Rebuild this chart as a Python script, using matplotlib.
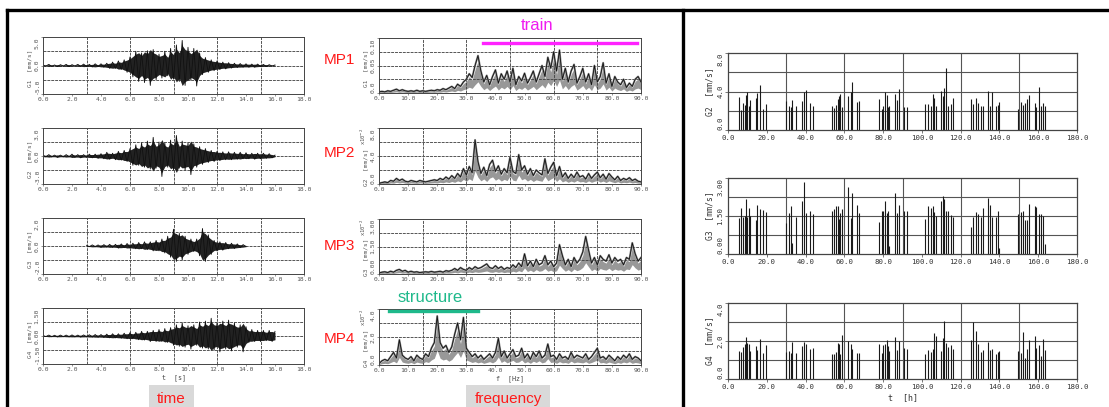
import numpy as np
import matplotlib
matplotlib.use("Agg")
from matplotlib import pyplot as plt
from matplotlib.lines import Line2D
from matplotlib.patches import Rectangle

# vibration velocity records at MP1..MP4, sampled every 0.2 s
dt = 0.2
g1_start = 0.0
g1 = [0.1, -0.1, 0.2, -0.15, 0.1, -0.2, 0.15, -0.1, 0.2, -0.2, 0.15, -0.1, 0.2, -0.15, 0.25, -0.2, 0.2, -0.25, 0.3, -0.2, 0.3,
      -0.3, 0.4, -0.5, 0.6, -0.5, 0.8, -0.7, 1.0, -1.2, 1.5,
      -2.0, 2.5, -2.8, 2.2, -3.0, 2.6, -3.5, 2.8, -2.5, 2.0, -2.2, 2.5, -1.8, 3.0, -2.4, 3.6, -2.8, 4.4, -3.5, 3.2, -2.6, 3.0, -3.6, 2.2, -1.6,
      1.4, -1.2, 1.0, -0.9, 0.8, -0.7, 0.6, -0.6, 0.5, -0.45,
      0.4, -0.35, 0.35, -0.3, 0.3, -0.3, 0.25, -0.3, 0.25, -0.2, 0.2, -0.2, 0.15, -0.1, 0.1]
g2_start = 0.0
g2 = [0.1, -0.1, 0.15, -0.1, 0.1, -0.15, 0.1, -0.1, 0.15, -0.1, 0.2, -0.15, 0.15, -0.2, 0.15, -0.15, 0.2, -0.2, 0.2, -0.25, 0.25,
      -0.3, 0.4, -0.35, 0.3, -0.4, 0.5, -0.45, 0.6, -0.6, 0.8,
      -1.0, 1.2, -1.0, 1.4, -1.2, 1.6, -1.4, 2.0, -1.3, 1.5, -2.2, 1.4, -1.2, 1.7, -1.5, 2.2, -1.3, 1.6, -1.5, 1.4, -2.0, 1.3, -1.2, 1.0, -0.9,
      0.8, -0.7, 0.6, -0.6, 0.5, -0.5, 0.45, -0.4, 0.45, -0.4,
      0.4, -0.35, 0.4, -0.3, 0.35, -0.3, 0.3, -0.35, 0.3, -0.3, 0.3, -0.25, 0.25, -0.2, 0.1]
g3_start = 3.0
g3 = [0.05, -0.05, 0.08, -0.06, 0.08, -0.1, 0.1, -0.08, 0.12, -0.1, 0.12, -0.15, 0.15, -0.12, 0.18, -0.15,
      0.2, -0.2, 0.25, -0.2, 0.3, -0.25, 0.3, -0.35, 0.4, -0.35, 0.5, -0.5,
      0.7, -0.8, 1.2, -1.1, 0.9, -1.0, 0.7, -0.6,
      0.5, -0.4, 0.5,
      -0.7, 1.25, -1.1, 0.8, -0.6,
      0.4, -0.35, 0.3, -0.3, 0.25, -0.2, 0.2, -0.18, 0.15, -0.12, 0.1, -0.05]
g4_start = 0.0
g4 = [0.03, -0.03, 0.05, -0.04, 0.04, -0.05, 0.05, -0.04, 0.05, -0.05, 0.06, -0.05, 0.05, -0.06, 0.06, -0.05, 0.07, -0.06, 0.08, -0.07, 0.08,
      -0.08, 0.1, -0.1, 0.12, -0.1, 0.12, -0.12, 0.15, -0.15, 0.18, -0.15, 0.2, -0.2, 0.25, -0.22,
      0.25, -0.3, 0.3, -0.3, 0.35, -0.3, 0.4, -0.35, 0.45, -0.5,
      0.6, -0.55, 0.7, -0.6, 0.55, -0.7, 0.6, -0.5, 0.75, -0.65, 0.8, -0.7, 0.95, -0.75, 0.7, -0.85, 0.8, -0.7, 0.85, -0.8, 0.7, -0.6, 0.6, -0.85, 0.5,
      -0.35, 0.35, -0.3, 0.3, -0.3, 0.3, -0.25, 0.3, -0.3, 0.25]

# amplitude spectra, 0..90 Hz in 1 Hz steps
freq = list(range(0, 91))
s1 = [0.002, 0.003, 0.002, 0.004, 0.003, 0.005, 0.007, 0.004, 0.006, 0.004,
      0.003, 0.004, 0.003, 0.005, 0.003, 0.004, 0.003, 0.004, 0.005, 0.004,
      0.006, 0.005, 0.008, 0.006, 0.009, 0.012, 0.008, 0.016, 0.012, 0.02,
      0.025, 0.035, 0.028, 0.05, 0.068, 0.04, 0.02, 0.032, 0.015, 0.03,
      0.042, 0.018, 0.035, 0.025, 0.04, 0.02, 0.045, 0.015, 0.03, 0.022,
      0.036, 0.018, 0.028, 0.04, 0.02, 0.035, 0.05, 0.03, 0.065, 0.045,
      0.075, 0.04, 0.078, 0.025, 0.045, 0.02, 0.04, 0.052, 0.018, 0.03,
      0.045, 0.02, 0.035, 0.015, 0.05, 0.02, 0.03, 0.055, 0.018, 0.035,
      0.012, 0.03, 0.02, 0.015, 0.025, 0.01, 0.018, 0.012, 0.025, 0.03, 0.02]
s2 = [0.1, 0.2, 0.3, 0.2, 0.5, 0.4, 0.8, 0.5, 0.7, 0.4,
      0.3, 0.5, 0.4, 0.3, 0.5, 0.4, 0.3, 0.4, 0.5, 0.6,
      0.5, 0.8, 0.6, 1.0, 0.7, 1.2, 0.8, 1.5, 1.0, 2.2,
      1.3, 2.5, 1.6, 6.3, 3.2, 1.5, 2.4, 1.2, 2.8, 3.4,
      1.8, 2.6, 1.4, 2.2, 1.6, 3.8, 1.8, 1.5, 4.2, 2.0,
      2.6, 1.4, 2.2, 1.2, 2.0, 1.6, 1.3, 3.6, 1.5, 2.4,
      3.1, 1.2, 2.5, 1.0, 1.6, 0.8, 1.4, 0.9, 1.7, 1.0,
      1.2, 0.7, 1.5, 0.8, 1.3, 1.7, 0.9, 1.4, 0.7, 1.5,
      1.0, 0.6, 1.1, 0.5, 0.8, 0.6, 0.9, 0.5, 0.7, 0.4, 0.3]
s3 = [0.05, 0.1, 0.12, 0.08, 0.15, 0.1, 0.2, 0.25, 0.15, 0.2,
      0.1, 0.15, 0.1, 0.12, 0.08, 0.1, 0.12, 0.1, 0.14, 0.1,
      0.12, 0.15, 0.1, 0.18, 0.15, 0.2, 0.3, 0.2, 0.35, 0.25,
      0.2, 0.35, 0.25, 0.4, 0.3, 0.35, 0.45, 0.55, 0.35, 0.3,
      0.45, 0.3, 0.4, 0.25, 0.35, 0.3, 0.5, 0.35, 0.6, 0.4,
      1.1, 0.45, 0.7, 0.4, 0.8, 0.5, 0.6, 1.0, 0.5, 0.7,
      0.4, 0.6, 1.6, 1.0, 0.5, 0.8, 0.4, 0.9, 0.6, 0.8,
      1.2, 2.05, 1.3, 0.6, 0.9, 0.5, 1.0, 0.8, 0.7, 1.05,
      0.6, 0.9, 0.7, 0.8, 0.5, 0.9, 0.8, 1.7, 1.1, 0.7, 0.9]
s4 = [0.1, 0.3, 0.4, 0.3, 0.6, 0.9, 0.5, 1.8, 0.7, 0.5,
      0.4, 0.6, 0.3, 0.7, 0.5, 0.4, 0.8, 0.6, 1.2, 1.6,
      3.5, 1.6, 1.2, 1.4, 0.9, 1.3, 2.2, 3.0, 1.8, 3.4,
      1.2, 0.9, 0.6, 0.8, 0.5, 0.7, 0.4, 0.6, 0.8, 0.5,
      0.9, 1.9, 0.6, 1.0, 0.5, 0.8, 1.1, 0.6, 0.7, 1.2,
      0.5, 0.8, 0.4, 0.9, 0.6, 1.0, 0.5, 0.7, 1.5, 0.6,
      0.7, 0.4, 0.8, 0.5, 0.6, 0.4, 0.9, 0.5, 0.7, 0.6,
      0.5, 0.8, 0.4, 0.6, 0.9, 1.2, 0.5, 0.6, 0.4, 0.7,
      0.5, 0.3, 0.6, 0.4, 0.7, 0.5, 0.8, 0.4, 0.6, 0.5, 0.3]

# one-week monitoring: peak velocity of each train passage [h]
passages = [5.7, 6.5, 7.8, 8.6, 9.3, 10.0, 10.7, 11.4, 14.3, 15.2, 16.4, 18.1, 19.5,
            30.1, 31.5, 32.4, 33.2, 34.9, 38.4, 39.1, 40.1, 42.2, 43.6,
            53.6, 54.6, 55.6, 56.5, 57.4, 58.0, 58.9, 62.0, 63.2, 64.2, 66.3, 67.7,
            78.0, 79.2, 80.1, 80.9, 81.8, 82.5, 83.2, 86.1, 87.3, 88.3, 90.9, 92.1,
            101.6, 103.3, 104.5, 105.6, 106.3, 107.1, 109.9, 110.7, 111.4, 112.3, 113.6, 114.9, 115.9,
            125.4, 126.6, 127.8, 128.8, 130.6, 131.4, 134.2, 135.2, 136.4, 138.0, 139.2, 140.0,
            149.8, 151.0, 152.1, 153.0, 154.2, 155.0, 158.1, 159.0, 160.2, 161.4, 162.4, 163.5]
peak_g2 = [3.4, 2.1, 2.85, 2.6, 3.65, 3.9, 2.5, 3.1, 3.3, 3.8, 4.7, 2.2, 2.7,
           3.0, 2.5, 2.4, 3.1, 2.5, 3.0, 3.9, 4.2, 2.85, 2.5,
           2.5, 2.3, 2.6, 3.2, 3.5, 3.75, 2.4, 3.5, 4.0, 5.0, 2.95, 3.0,
           3.2, 2.15, 2.5, 3.9, 3.65, 2.35, 2.45, 3.7, 3.1, 4.25, 2.35, 2.4,
           2.7, 2.7, 2.5, 3.7, 3.3, 2.45, 4.05, 3.5, 4.35, 6.45, 2.5, 2.7, 3.3,
           3.2, 2.7, 3.3, 2.85, 2.5, 2.45, 4.05, 2.45, 3.9, 2.5, 2.55, 2.95,
           2.15, 2.95, 2.6, 2.8, 3.2, 3.65, 2.8, 2.35, 4.5, 2.5, 2.85, 2.5]
peak_g3 = [1.42, 1.8, 1.45, 1.5, 2.17, 1.46, 1.82, 1.5, 1.36, 1.95, 1.78, 1.72, 1.67,
           1.22, 1.61, 1.88, 0.43, 1.48, 2.08, 2.84, 1.61, 1.68, 1.56,
           1.68, 1.77, 1.88, 1.88, 1.38, 1.61, 1.77, 2.63, 1.42, 2.41, 1.95, 1.61,
           1.26, 1.71, 1.71, 2.08, 1.61, 1.71, 0.3, 2.41, 1.61, 1.93, 1.71, 1.71,
           1.38, 1.88, 1.81, 1.91, 1.64, 1.5, 2.08, 2.28, 2.17, 1.71, 1.71, 1.55, 1.45,
           1.06, 1.45, 1.66, 1.56, 1.46, 1.82, 2.21, 1.95, 1.46, 1.45, 1.68, 0.25,
           1.56, 1.66, 1.71, 1.36, 1.36, 1.96, 1.9, 1.85, 1.56, 1.58, 1.5, 0.4]
peak_g4 = [1.5, 1.4, 1.7, 1.85, 2.2, 1.9, 1.85, 1.45, 1.75, 1.55, 2.1, 1.35, 1.8,
           1.4, 1.5, 1.35, 1.95, 1.35, 1.75, 1.95, 1.85, 1.6, 1.65,
           1.3, 1.3, 1.4, 1.9, 1.85, 1.3, 2.3, 2.0, 1.85, 1.6, 1.35, 1.35,
           1.85, 1.35, 1.8, 1.85, 2.05, 1.75, 1.5, 2.2, 1.55, 2.0, 1.65, 1.6,
           1.3, 1.55, 1.4, 1.6, 2.4, 2.25, 1.45, 2.15, 3.05, 1.9, 1.7, 1.8, 1.6,
           2.05, 3.0, 2.55, 1.85, 1.4, 1.55, 1.95, 1.55, 1.6, 1.3, 1.4, 1.5,
           1.45, 1.35, 2.45, 1.1, 1.6, 2.05, 2.25, 1.65, 1.8, 1.2, 2.1, 1.55]

W, H = 1109, 407
fig = plt.figure(figsize=(W / 100, H / 100), dpi=100)
mono = "DejaVu Sans Mono"


def box(x0, x1, y0, y1):
    return fig.add_axes([x0 / W, 1 - y1 / H, (x1 - x0) / W, (y1 - y0) / H])


def grid_lines(ax, xs, ys, **kw):
    for x in xs:
        ax.axvline(x, zorder=0.5, **kw)
    for y in ys:
        ax.axhline(y, zorder=0.5, **kw)


def edge_ylabels(ax):
    # keep the end labels inside the axis height so they clear the x labels
    labs = ax.get_yticklabels()
    labs[0].set_va("bottom")
    labs[-1].set_va("top")


def scan_axes(ax, xmax, xgrid, xstep, ymax, ylabs, name, scale=False, ymin=None):
    ymin = -ymax if ymin is None else ymin
    ax.set_xlim(0, xmax)
    ax.set_ylim(ymin, ymax)
    ax.set_xticks(np.arange(0, xmax + 0.1, xstep))
    ax.set_xticklabels(["%.1f" % v for v in np.arange(0, xmax + 0.1, xstep)],
                       fontsize=4.6, family=mono, color="#555")
    ax.set_yticks([ymin, (ymin + ymax) / 2, ymax])
    ax.set_yticklabels(ylabs, fontsize=4.6, family=mono, color="#555",
                       rotation=90, va="center")
    edge_ylabels(ax)
    grid_lines(ax, np.arange(xgrid, xmax, xgrid), np.linspace(ymin, ymax, 5)[1:-1],
               color="#555", lw=0.7, ls=(0, (3, 1)))
    ax.tick_params(length=1.5, width=0.5, pad=1, color="#666")
    for s in ax.spines.values():
        s.set_color("#444")
        s.set_linewidth(0.7)
    ax.set_ylabel(name, fontsize=4.4, family=mono, color="#555")
    if scale:
        ax.yaxis.set_label_coords(-0.042, 0.3)
        ax.text(-0.042, 1.0, r"x10$^{-2}$", transform=ax.transAxes, rotation=90,
                ha="right", va="top", fontsize=4.0, family=mono, color="#555")
    else:
        ax.yaxis.set_label_coords(-0.042, 0.45)


# time histories
rows_t = [(37, 94), (128, 184), (218, 274), (308, 364)]
sigs = [(g1_start, g1, 5.0, ["-5.0", "0.0", "5.0"]),
        (g2_start, g2, 3.0, ["-3.0", "0.0", "3.0"]),
        (g3_start, g3, 2.0, ["-2.0", "0.0", "2.0"]),
        (g4_start, g4, 1.5, ["-1.50", "0.00", "1.50"])]
for i, ((y0, y1), (t0, vals, ym, labs)) in enumerate(zip(rows_t, sigs)):
    ax = box(43, 304, y0, y1)
    t = t0 + dt * np.arange(len(vals))
    amp = np.abs(vals)
    ax.fill_between(t, -amp * 0.8, amp * 0.8, color="#222", lw=0)
    ax.plot(t, vals, color="#111", lw=0.6)
    scan_axes(ax, 18.0, 3.0, 2.0, ym, labs, "G%d  [mm/s]" % (i + 1))
    if i == 3:
        ax.set_xlabel("t  [s]", fontsize=4.8, family=mono, color="#444", labelpad=1)

# spectra
rows_f = [(38, 93), (128, 184), (219, 274), (309, 365)]
specs = [(s1, 0.10, ["0.0", "0.05", "0.10"], False),
         (s2, 8.0, ["0.0", "4.0", "8.0"], True),
         (s3, 3.0, ["0.00", "1.50", "3.00"], True),
         (s4, 4.0, ["0.0", "2.0", "4.0"], True)]
for i, ((y0, y1), (vals, ym, labs, sc)) in enumerate(zip(rows_f, specs)):
    ax = box(379, 641, y0, y1)
    v = np.array(vals)
    ax.fill_between(freq, v * 0.3, v * 0.85, color="#444", alpha=0.55, lw=0)
    ax.plot(freq, vals, color="#888", lw=1.4)
    ax.plot(freq, vals, color="#111", lw=0.6)
    scan_axes(ax, 90.0, 15.0, 10.0, ym, labs, "G%d  [mm/s]" % (i + 1), scale=sc, ymin=0)
    fig.text(339 / W, 1 - (60 + 95 * i - 2 * i) / H, "MP%d" % (i + 1), color="#ff1a1a",
             fontsize=11, family="Liberation Sans", ha="center", va="center")
    if i == 3:
        ax.set_xlabel("f  [Hz]", fontsize=4.8, family=mono, color="#444", labelpad=1)

# long-term peak values
rows_r = [(53, 130), (178, 254), (303, 379)]
peaks = [(peak_g2, 8.0, ["0.0", "4.0", "8.0"], "G2"),
         (peak_g3, 3.0, ["0.00", "1.50", "3.00"], "G3"),
         (peak_g4, 4.0, ["0.0", "2.0", "4.0"], "G4")]
for i, ((y0, y1), (vals, ym, labs, name)) in enumerate(zip(rows_r, peaks)):
    ax = box(728, 1077, y0, y1)
    ax.vlines(passages, 0, vals, color="#1a1a1a", lw=0.8)
    ax.set_xlim(0, 180)
    ax.set_ylim(0, ym)
    ax.set_xticks(np.arange(0, 181, 20))
    ax.set_xticklabels(["%.1f" % v for v in np.arange(0, 181, 20)],
                       fontsize=5.3, family=mono, color="#333")
    ax.set_yticks([0, ym / 2, ym])
    ax.set_yticklabels(labs, fontsize=5.3, family=mono, color="#333", rotation=90, va="center")
    edge_ylabels(ax)
    grid_lines(ax, np.arange(30, 180, 30), np.linspace(0, ym, 5)[1:-1], color="#555", lw=0.8)
    ax.tick_params(length=2, width=0.5, pad=1.5, color="#444")
    for s in ax.spines.values():
        s.set_color("#444")
        s.set_linewidth(0.9)
    ax.set_ylabel(name + "  [mm/s]", fontsize=5.8, family=mono, color="#333", labelpad=2)
    if i == 2:
        ax.set_xlabel("t  [h]", fontsize=6, family=mono, color="#333", labelpad=2)

# annotations
fig.text(537 / W, 1 - 25 / H, "train", color="#f01af0", fontsize=12,
         family="Liberation Sans", ha="center", va="center")
fig.add_artist(Line2D([483 / W, 637 / W], [1 - 43 / H] * 2, color="#ff22ff", lw=2.4))
fig.text(430 / W, 1 - 297 / H, "structure", color="#1fb98b", fontsize=12,
         family="Liberation Sans", ha="center", va="center")
fig.add_artist(Line2D([389 / W, 478 / W], [1 - 311 / H] * 2, color="#1fb98b", lw=2.4))

for (x0, x1), label in [((149, 194), "time"), ((466, 550), "frequency")]:
    fig.add_artist(Rectangle((x0 / W, 0), (x1 - x0) / W, 22 / H, transform=fig.transFigure,
                             facecolor="#d9d9d9", edgecolor="none"))
    fig.text((x0 + x1) / 2 / W, 1 - 399 / H, label, color="#ff1a1a", fontsize=11,
             family="Liberation Sans", ha="center", va="center")

# frame lines
fig.add_artist(Line2D([7 / W, 1.0], [1 - 10 / H] * 2, color="black", lw=2.4))
for xv in (7, 683):
    fig.add_artist(Line2D([xv / W] * 2, [0, 1 - 10 / H], color="black", lw=2.4))

fig.savefig("out.png", dpi=100)
